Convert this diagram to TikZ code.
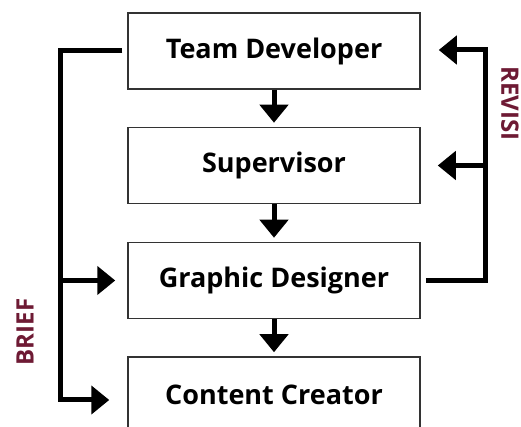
\documentclass[tikz,border=0pt]{standalone}
\usepackage{fontspec}
\setsansfont{Open Sans}
\usetikzlibrary{arrows.meta,positioning}
\definecolor{maroon}{RGB}{110,26,52}

\begin{document}
\begin{tikzpicture}[x=1pt,y=1pt,
  role/.style={draw=black!80,line width=1.5pt,minimum width=292pt,minimum height=76pt,
    inner sep=0pt,font=\sffamily\bfseries\fontsize{27}{30}\selectfont},
  flow/.style={line width=5pt,-{Triangle[length=18pt,width=28pt]}},
  side/.style={text=maroon,inner sep=0pt,font=\sffamily\bfseries\fontsize{24}{26}\selectfont}]
\useasboundingbox (0,0) rectangle (521,427);
\clip (0,0) rectangle (521,427);
\node[role] (td) at (274,376) {Team Developer};
\node[role] (sv) at (274,261.5) {Supervisor};
\node[role] (gd) at (274,146.5) {Graphic Designer};
\node[role] (cc) at (274,32) {Content Creator};
% down the chain
\draw[flow] (td.south) -- ([yshift=4pt]sv.north);
\draw[flow] (sv.south) -- ([yshift=4pt]gd.north);
\draw[flow] (gd.south) -- ([yshift=4pt]cc.north);
% brief, on the left
\coordinate (lbot) at ([xshift=-67pt,yshift=-5pt]cc.west);
\draw[flow,line join=miter] ([xshift=-5pt]td.west) -| (lbot) -- ([xshift=-18pt,yshift=-5pt]cc.west);
\draw[flow] (gd.west -| lbot) -- ([xshift=-12pt]gd.west);
% revision, on the right
\coordinate (rtop) at ([xshift=65pt,yshift=1pt]td.east);
\draw[flow,line join=miter] ([xshift=5pt]gd.east) -| (rtop) -- ([xshift=18pt,yshift=1pt]td.east);
\draw[flow] (sv.east -| rtop) -- ([xshift=17pt]sv.east);
\node[side,rotate=90] (brief) at (25,95) {BRIEF};
\node[side,rotate=-90,anchor=north west] (revisi) at (519,361) {REVISI};
\end{tikzpicture}
\end{document}
